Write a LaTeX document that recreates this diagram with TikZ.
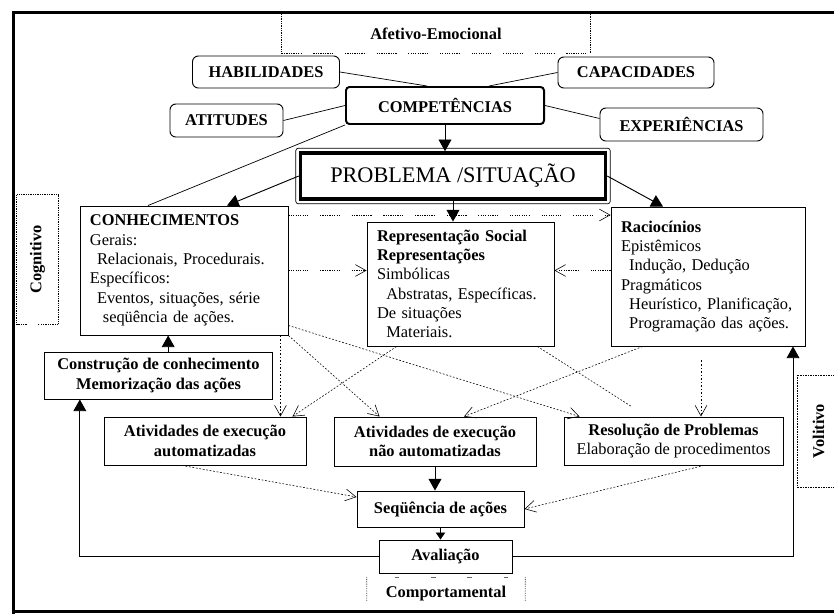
\documentclass[tikz,border=0pt]{standalone}
\usepackage{fontspec}
\setmainfont{Liberation Serif}
\usetikzlibrary{calc, arrows.meta}
\newcommand{\fonte}{\fontsize{14}{16.5}\selectfont}
\tikzstyle{rotulo}  = [draw, rounded corners=5pt, line width=0.8pt, font=\fonte\bfseries, inner sep=0pt]
\tikzstyle{caixa}   = [draw, line width=0.8pt, font=\fonte\bfseries, align=center, inner sep=0pt]
\tikzstyle{bloco}   = [draw, line width=0.8pt, font=\fonte, align=left, inner xsep=0.3cm, inner ysep=0pt]
\tikzstyle{faixa}   = [font=\fonte\bfseries, inner sep=0pt]
\tikzstyle{lateral} = [rotate=90, font=\fonte\bfseries, inner sep=0pt]
\tikzstyle{pontos}  = [densely dotted, line width=0.5pt]
\tikzstyle{tracos}  = [line width=0.5pt, dash pattern=on 1pt off 1pt on 1pt off 1pt on 1pt off 1pt on 1pt off 1pt on 1pt off 1pt on 1pt off 1pt on 1pt off 1pt on 1pt off 1pt on 1pt off 10pt]
\tikzstyle{ligacao} = [line width=0.5pt, dash pattern=on 1.5pt off 1.5pt]
\tikzstyle{aberta}  = [-{Straight Barb[length=9pt,width=10pt]}]
\tikzstyle{seta}    = [line width=0.8pt, -{Triangle[length=10pt,width=11pt]}]
\tikzstyle{setinha} = [line width=0.8pt, -{Triangle[length=6pt,width=8pt]}]

\begin{document}
\begin{tikzpicture}[x=0.03cm, y=-0.03cm]
  \useasboundingbox (0,0) rectangle (834,614);
  % moldura
  \draw[line width=3pt] (13.5,614) -- (13.5,12.5) -- (834,12.5);
  \draw[line width=2.5pt] (13.5,611.5) -- (834,611.5);

  % dimensoes
  \node[faixa, minimum width=9.24cm, minimum height=1.17cm] (afetivo) at (436,33.5) {Afetivo-Emocional};
  \draw[pontos] (afetivo.south west) -- (afetivo.north west) -- (afetivo.north east) -- (afetivo.south east);
  \draw[tracos] (afetivo.south west) -- (afetivo.south east);
  \node[lateral, minimum width=3.87cm, minimum height=1.23cm] (cognit) at (37.5,259.5) {Cognitivo};
  \draw[pontos] (cognit.north west) -- (cognit.north east) -- (cognit.south east) -- (cognit.south west);
  \draw[tracos] (cognit.south west) -- (cognit.north west);
  \node[lateral, draw, densely dotted, minimum width=3.36cm, minimum height=1.29cm] (volit) at (818.5,431) {Volitivo};
  \node[faixa, minimum width=4.74cm, minimum height=1.02cm] (comport) at (446,594) {Comportamental};
  \draw[pontos] ($(comport.north west)!0.7!(comport.south west)$) -- (comport.north west);
  \draw[pontos] ($(comport.north east)!0.7!(comport.south east)$) -- (comport.north east);
  \draw[line width=0.4pt, black!60, dash pattern=on 4pt off 27pt] ([xshift=0.84cm]comport.north west) -- (comport.north east);

  % competencias
  \node[rotulo, minimum width=4.41cm, minimum height=0.96cm] (habil) at (266,72) {HABILIDADES};
  \node[rotulo, minimum width=4.68cm, minimum height=0.93cm] (capac) at (636,72.5) {CAPACIDADES};
  \node[rotulo, minimum width=3.39cm, minimum height=0.99cm] (atit) at (226.5,120.5) {ATITUDES};
  \node[rotulo, minimum width=4.89cm, minimum height=0.99cm] (exper) at (681.5,124.5) {EXPERIÊNCIAS};
  \node[rotulo, line width=1.7pt, rounded corners=3pt, minimum width=5.94cm, minimum height=1.11cm] (compet) at (445,105.5) {COMPETÊNCIAS};
  \node[draw, line width=3pt, font=\fontsize{19}{22}\selectfont, minimum width=9.15cm, minimum height=1.38cm] (problema) at (453,176) {PROBLEMA /SITUAÇÃO};
  \draw[line width=0.6pt, rounded corners=2pt] ([shift={(-2.5pt,2.5pt)}]problema.north west) rectangle ([shift={(2.5pt,-2.5pt)}]problema.south east);

  % blocos
  \node[bloco, text width=5.64cm, minimum height=3.87cm] (conhec) at (184,270.5) {\textbf{CONHECIMENTOS}\\Gerais:\\\hspace*{6pt}Relacionais, Procedurais.\\Específicos:\\\hspace*{6pt}Eventos, situações, série\\\hspace*{11pt}seqüência de ações.};
  \node[bloco, text width=5.01cm, minimum height=3.72cm] (repres) at (460.5,284) {\textbf{Representação Social}\\\textbf{Representações}\\Simbólicas\\\hspace*{8pt}Abstratas, Específicas.\\De situações\\\hspace*{8pt}Materiais.};
  \node[bloco, text width=5.22cm, minimum height=4.17cm] (racioc) at (708,276.5) {\textbf{Raciocínios}\\Epistêmicos\\\hspace*{7pt}Indução, Dedução\\Pragmáticos\\\hspace*{7pt}Heurístico, Planificação,\\\hspace*{7pt}Programação das ações.\par\vspace*{8.5pt}};

  \node[caixa, minimum width=6.84cm, minimum height=1.41cm] (constr) at (158.5,375.5) {Construção de conhecimento\\Memorização das ações};
  \node[caixa, minimum width=6.06cm, minimum height=1.44cm] (ativauto) at (205,441) {Atividades de execução\\automatizadas};
  \node[caixa, minimum width=6.06cm, minimum height=1.47cm] (ativnao) at (435,441.5) {Atividades de execução\\não automatizadas};
  \node[caixa, minimum width=6.57cm, minimum height=1.44cm] (resol) at (673.5,441) {Resolução de Problemas\\{\mdseries Elaboração de procedimentos}};
  \node[caixa, minimum width=5.01cm, minimum height=1.08cm] (sequen) at (440.5,509) {Seqüência de ações};
  \node[caixa, minimum width=3.99cm, minimum height=0.99cm] (avali) at (445.5,556.5) {Avaliação};

  % linhas das competencias
  \draw[line width=0.6pt] (habil.east) -- ([xshift=-0.54cm]compet.north);
  \draw[line width=0.6pt] (capac.west) -- ([xshift=1.32cm]compet.north);
  \draw[line width=0.6pt] (atit.east) -- (compet.west);
  \draw[line width=0.6pt] (compet.east) -- ([yshift=0.18cm]exper.west);
  \draw[line width=0.6pt] (compet.south west) -- ([xshift=-1.08cm]conhec.north);

  % setas cheias
  \draw[seta] (compet.south) -- (compet.south |- problema.north);
  \draw[seta] (problema.west) -- ([xshift=1.29cm]conhec.north);
  \draw[seta] (problema.east) -- ([xshift=-1.35cm]racioc.north);
  \draw[seta] (problema.south) -- (problema.south |- repres.north);
  \draw[seta] ([xshift=0.29cm]constr.north) -- ([xshift=0.29cm]constr.north |- conhec.south);
  \draw[seta] (ativnao.south) -- (ativnao.south |- sequen.north);
  \draw[setinha] (sequen.south) -- (sequen.south |- avali.north);
  \draw[seta] (avali.west) -| ([xshift=-2.36cm]constr.south);
  \draw[seta] (avali.east) -| ([xshift=2.55cm]racioc.south);

  % ligacoes pontilhadas
  \draw[tracos, aberta] ([yshift=1.665cm]conhec.east) -- ([yshift=1.665cm]conhec.east -| racioc.west);
  \draw[tracos, aberta] (conhec.east) -- (conhec.east -| repres.west);
  \draw[tracos, aberta] (racioc.west |- conhec.east) -- (repres.east |- conhec.east);
  \draw[ligacao, aberta] ([yshift=0.3cm]conhec.south east) -- ([xshift=0.48cm]resol.north west);
  \draw[ligacao, aberta] (conhec.south east) -- ([xshift=1.38cm]ativnao.north west);
  \draw[ligacao, aberta] ([xshift=-0.24cm]conhec.south east) -- ([xshift=-0.24cm]conhec.south east |- ativauto.north);
  \draw[ligacao, aberta] ([xshift=0.9cm]repres.south west) -- ([xshift=-0.42cm]ativauto.north east);
  \draw[ligacao] ([xshift=-0.51cm]repres.south east) -- ([xshift=2.04cm,yshift=0.3cm]resol.north west);
  \draw[ligacao, aberta] ([xshift=0.96cm]racioc.south west) -- ([xshift=0.87cm]ativnao.north);
  \draw[ligacao, aberta] ([xshift=-0.21cm,yshift=-0.42cm]racioc.south) -- ([xshift=-0.21cm]racioc.south |- resol.north);
  \draw[ligacao, aberta] ([xshift=-0.69cm]ativauto.south) -- ([yshift=0.36cm]sequen.west);
  \draw[ligacao, aberta] ([xshift=0.915cm]resol.south) -- (sequen.east);
\end{tikzpicture}
\end{document}
